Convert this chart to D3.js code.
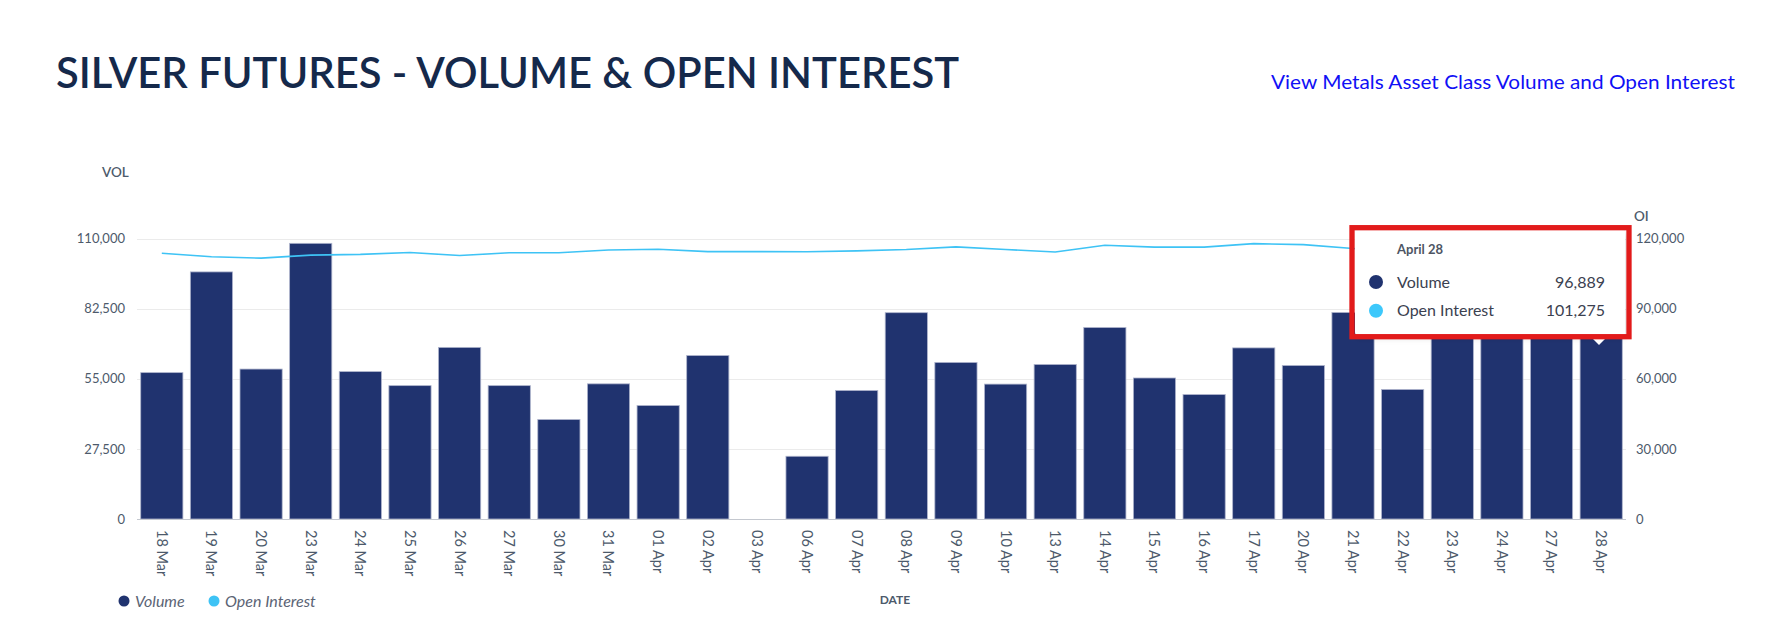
<!DOCTYPE html>
<html><head><meta charset="utf-8">
<script src="https://cdn.jsdelivr.net/npm/d3@7"></script>
<style>
html,body{margin:0;padding:0;background:#fff;}
svg{display:block;}
</style></head>
<body>
<svg id="chart" width="1776" height="636"></svg>
<script>
const dates = ["18 Mar","19 Mar","20 Mar","23 Mar","24 Mar","25 Mar","26 Mar","27 Mar","30 Mar","31 Mar","01 Apr","02 Apr","03 Apr","06 Apr","07 Apr","08 Apr","09 Apr","10 Apr","13 Apr","14 Apr","15 Apr","16 Apr","17 Apr","20 Apr","21 Apr","22 Apr","23 Apr","24 Apr","27 Apr","28 Apr"];
const volume = [57400,96900,58800,108100,57800,52300,67300,52300,39000,53000,44500,64100,0,24600,50400,80900,61400,52900,60600,75100,55300,48800,67100,60200,81000,50800,88000,91000,86000,96889];
const openInterest = [113700,112200,111600,112900,113200,114000,112700,113900,113900,115100,115400,114400,114400,114300,114700,115300,116400,115300,114200,117100,116300,116300,117800,117400,115700,114000,110000,107000,104000,101275];
const volTicks = [0,27500,55000,82500,110000];
const oiTicks = [0,30000,60000,90000,120000];
const tooltipDate = "April 28";
const tooltipRows = [{name:"Volume", value:96889}, {name:"Open Interest", value:101275}];

const C = {bar:"#20336f", line:"#3ec3f5", text:"#4d5a6b", grid:"#ebebeb", title:"#15294b", link:"#1010f5"};
const svg = d3.select("#chart");
const font = "Lato, 'Open Sans', sans-serif";
const fmt = d3.format(",");

const pLeft = 137, pRight = 1626, pTop = 238.5, pBottom = 519;
const x = d3.scaleBand().domain(dates).range([pLeft, pRight]).paddingInner(0.15).paddingOuter(0.075);
const yV = d3.scaleLinear().domain([0,110000]).range([pBottom, pTop]);
const yO = d3.scaleLinear().domain([0,120000]).range([pBottom, pTop]);

// title
svg.append("text").attr("x",56).attr("y",88).attr("font-family",font).attr("font-weight",600)
  .attr("font-size",43).attr("fill",C.title).attr("textLength",903).attr("lengthAdjust","spacingAndGlyphs")
  .text("SILVER FUTURES - VOLUME & OPEN INTEREST");
svg.append("text").attr("x",1735).attr("y",89).attr("text-anchor","end").attr("font-family",font)
  .attr("font-size",20).attr("fill",C.link).attr("textLength",464).attr("lengthAdjust","spacingAndGlyphs")
  .text("View Metals Asset Class Volume and Open Interest");

// grid
svg.append("g").selectAll("line").data(volTicks.filter(d=>d>0)).join("line")
  .attr("x1",pLeft).attr("x2",pRight).attr("y1",d=>Math.round(yV(d))+0.5).attr("y2",d=>Math.round(yV(d))+0.5)
  .attr("stroke",C.grid).attr("stroke-width",1);

// left axis
const la = svg.append("g").attr("transform",`translate(${pLeft},0)`)
  .call(d3.axisLeft(yV).tickValues(volTicks).tickFormat(fmt).tickSize(0).tickPadding(12));
la.select(".domain").remove();
la.selectAll("text").attr("font-family",font).attr("font-size",13).attr("fill",C.text);
// right axis
const ra = svg.append("g").attr("transform",`translate(${pRight},0)`)
  .call(d3.axisRight(yO).tickValues(oiTicks).tickFormat(fmt).tickSize(0).tickPadding(10));
ra.select(".domain").remove();
ra.selectAll("text").attr("font-family",font).attr("font-size",13).attr("fill",C.text);

svg.append("text").attr("x",102).attr("y",172).attr("dy","0.35em").attr("font-family",font).attr("font-weight",600)
  .attr("font-size",13.5).attr("fill",C.text).text("VOL");
svg.append("text").attr("x",1634).attr("y",216).attr("dy","0.35em").attr("font-family",font).attr("font-weight",600)
  .attr("font-size",13.5).attr("fill",C.text).text("OI");

// bars
svg.append("g").selectAll("rect").data(dates.map((d,i)=>({d, v:volume[i]})).filter(o=>o.v>0)).join("rect")
  .attr("x",o=>x(o.d)).attr("width",x.bandwidth())
  .attr("y",o=>yV(o.v)).attr("height",o=>pBottom-yV(o.v))
  .attr("fill",C.bar).attr("stroke","#aeb4cc").attr("stroke-width",0.8);

// baseline
svg.append("line").attr("x1",pLeft).attr("x2",pRight).attr("y1",pBottom+0.5).attr("y2",pBottom+0.5)
  .attr("stroke","#c4c8cf").attr("stroke-width",1.2);

// OI line
const line = d3.line().x((d,i)=>x(dates[i])+x.bandwidth()/2).y(d=>yO(d));
svg.append("path").datum(openInterest).attr("d",line).attr("fill","none")
  .attr("stroke",C.line).attr("stroke-width",1.6);

// x labels
svg.append("g").selectAll("text").data(dates).join("text")
  .attr("transform",d=>`translate(${x(d)+x.bandwidth()/2},530) rotate(90)`)
  .attr("dy","0.35em").attr("font-family",font).attr("font-size",14.5).attr("fill",C.text).text(d=>d);

svg.append("text").attr("x",895).attr("y",600).attr("dy","0.35em").attr("text-anchor","middle")
  .attr("font-family",font).attr("font-weight",700).attr("font-size",12).attr("fill",C.text).text("DATE");

// legend
const leg = [{n:"Volume",c:C.bar,x:124},{n:"Open Interest",c:C.line,x:214}];
const lg = svg.append("g");
lg.selectAll("circle").data(leg).join("circle").attr("cx",d=>d.x).attr("cy",601).attr("r",5.5).attr("fill",d=>d.c);
lg.selectAll("text").data(leg).join("text").attr("x",d=>d.x+11).attr("y",601).attr("dy","0.35em")
  .attr("font-family",font).attr("font-style","italic").attr("font-size",16).attr("fill","#5b6475").text(d=>d.n);

// tooltip
const defs = svg.append("defs");
const f = defs.append("filter").attr("id","sh").attr("x","-10%").attr("y","-10%").attr("width","130%").attr("height","140%");
f.append("feDropShadow").attr("dx",1).attr("dy",2).attr("stdDeviation",3).attr("flood-color","#000").attr("flood-opacity",0.15);
const tt = svg.append("g");
tt.append("rect").attr("x",1355).attr("y",230).attr("width",270).attr("height",106).attr("rx",4)
  .attr("fill","#fff").attr("filter","url(#sh)");
tt.append("path").attr("d","M1592,338 L1606,338 L1599,345 Z").attr("fill","#fff");
tt.append("text").attr("x",1397).attr("y",249.5).attr("dy","0.35em").attr("font-family",font).attr("font-weight",700)
  .attr("font-size",13).attr("fill","#4d5563").text(tooltipDate);
const rowY = [282, 310.7], rowC = [C.bar, "#3dc8fb"];
tooltipRows.forEach((r,i)=>{
  tt.append("circle").attr("cx",1376).attr("cy",rowY[i]).attr("r",7).attr("fill",rowC[i]);
  tt.append("text").attr("x",1397).attr("y",rowY[i]).attr("dy","0.35em").attr("font-family",font)
    .attr("font-size",16).attr("fill","#3b4150").text(r.name);
  tt.append("text").attr("x",1605).attr("y",rowY[i]).attr("dy","0.35em").attr("text-anchor","end").attr("font-family",font)
    .attr("font-size",16).attr("fill","#3b4150").text(fmt(r.value));
});
tt.append("rect").attr("x",1352).attr("y",227.7).attr("width",277).attr("height",109).attr("fill","none")
  .attr("stroke","#e21b1b").attr("stroke-width",5.3);
</script>
</body></html>
